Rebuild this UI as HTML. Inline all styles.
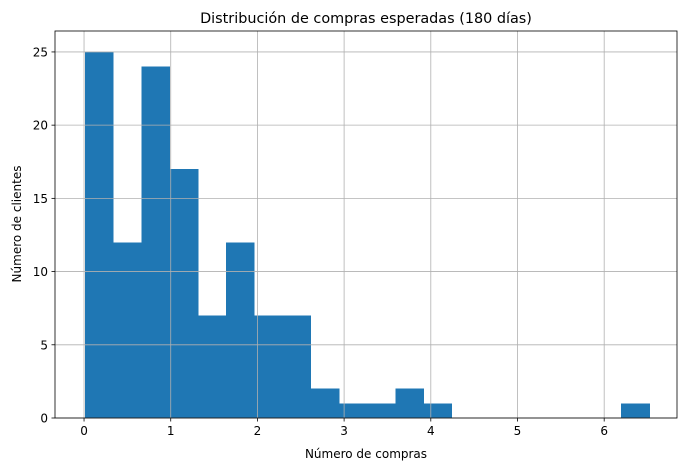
<!DOCTYPE html>
<html><head><meta charset="utf-8"><style>
body{margin:0;background:#fff;}
text{font-family:"DejaVu Sans","Liberation Sans",sans-serif;fill:#000;}
</style></head><body>
<svg id="chart" width="686" height="471" viewBox="0 0 686 471" xmlns="http://www.w3.org/2000/svg"></svg>
<script>
const binStart = 0.01;
const binEnd = 6.52;
const counts = [25,12,24,17,7,12,7,7,2,1,1,2,1,0,0,0,0,0,0,1];
const xTicks = [0,1,2,3,4,5,6];
const yTicks = [0,5,10,15,20,25];

const L=55,R=677,T=31,B=418;
const xMin=-0.335,xMax=6.84,yMax=26.43;
const sx=v=>L+(v-xMin)/(xMax-xMin)*(R-L);
const sy=v=>B-v/yMax*(B-T);
const svg=document.getElementById('chart');
const NS='http://www.w3.org/2000/svg';
function mk(tag,attrs,parent){const e=document.createElementNS(NS,tag);for(const k in attrs)e.setAttribute(k,attrs[k]);(parent||svg).appendChild(e);return e;}

const bw=(binEnd-binStart)/counts.length;
counts.forEach((c,i)=>{
  if(c<=0)return;
  const x0=sx(binStart+i*bw),x1=sx(binStart+(i+1)*bw);
  const r=mk('rect',{x:x0,y:sy(c),width:x1-x0+0.5,height:sy(0)-sy(c),fill:'#1f77b4','shape-rendering':'crispEdges'});
  
  
});
xTicks.forEach(t=>{
  const x=sx(t);
  const g=mk('line',{x1:x,x2:x,y1:T,y2:B,stroke:'#b0b0b0','stroke-width':0.8});
  
  
  mk('line',{x1:x,x2:x,y1:B,y2:B+3.5,stroke:'#000','stroke-width':0.8});
  const tx=mk('text',{x:x,y:B+17,'text-anchor':'middle','font-size':12});
  tx.textContent=t;
  
  
});
yTicks.forEach(t=>{
  const y=sy(t);
  const g=mk('line',{x1:L,x2:R,y1:y,y2:y,stroke:'#b0b0b0','stroke-width':0.8});
  
  
  mk('line',{x1:L-3.5,x2:L,y1:y,y2:y,stroke:'#000','stroke-width':0.8});
  const tx=mk('text',{x:L-7,y:y+4.5,'text-anchor':'end','font-size':12});
  tx.textContent=t;
  
  
});
const fr=mk('rect',{x:L,y:T,width:R-L,height:B-T,fill:'none',stroke:'#000','stroke-width':0.8});


</script>
<svg style="position:absolute;left:0;top:0" width="686" height="471">
<text x="366" y="23" text-anchor="middle" font-size="14.4" style="font-family:'DejaVu Sans','Liberation Sans',sans-serif">Distribución de compras esperadas (180 días)</text>
<text x="366" y="458" text-anchor="middle" font-size="12" style="font-family:'DejaVu Sans','Liberation Sans',sans-serif">Número de compras</text>
<text x="0" y="0" transform="translate(21,224) rotate(-90)" text-anchor="middle" font-size="12" style="font-family:'DejaVu Sans','Liberation Sans',sans-serif">Número de clientes</text>
</svg>
</body></html>
